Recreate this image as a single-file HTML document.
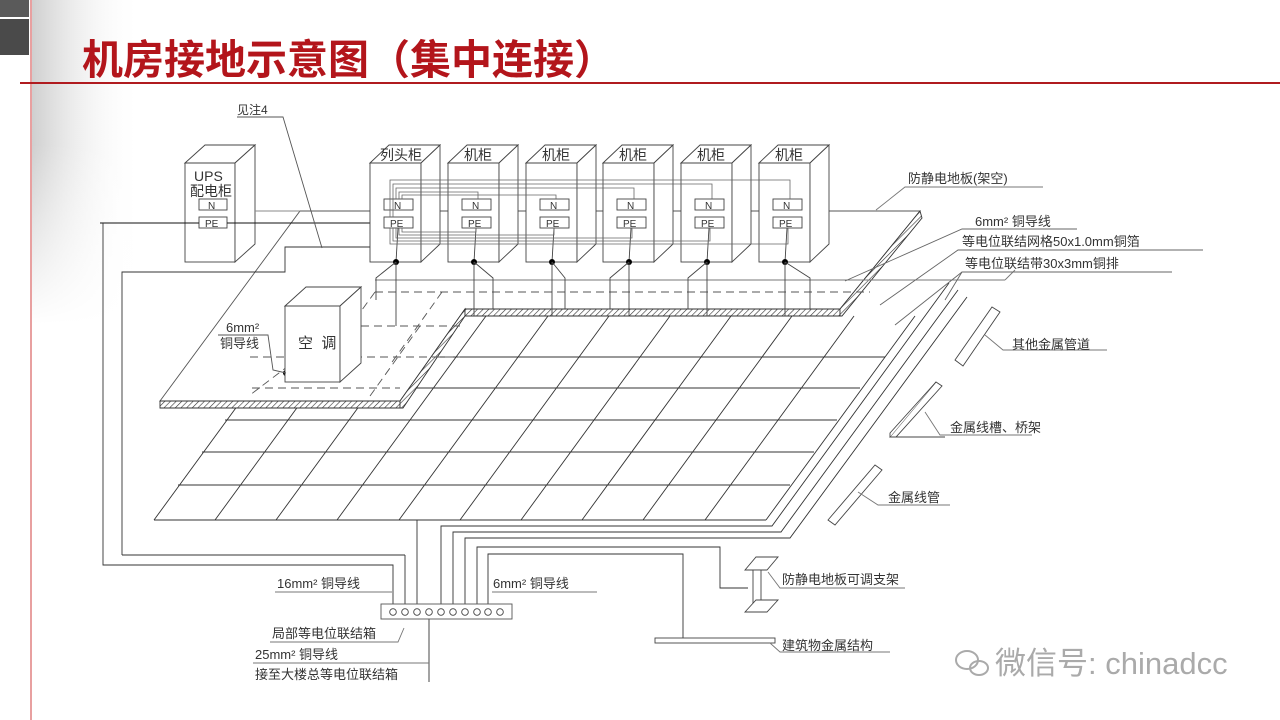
<!DOCTYPE html>
<html><head><meta charset="utf-8"><style>
html,body{margin:0;padding:0;background:#fff;}
body{width:1280px;height:720px;overflow:hidden;position:relative;font-family:"Liberation Sans","Noto Sans CJK SC",sans-serif;}
svg{position:absolute;left:0;top:0;}
.t{font-family:"Liberation Sans","Noto Sans CJK SC",sans-serif;fill:#333;font-size:13px;stroke:none;}
</style></head><body>
<svg width="1280" height="720" viewBox="0 0 1280 720">
<defs>
<linearGradient id="lg" x1="0" x2="1" y1="0" y2="0">
<stop offset="0" stop-color="#cfcfcf"/><stop offset="1" stop-color="#fff" stop-opacity="0"/>
</linearGradient>
<linearGradient id="lgv" x1="0" x2="0" y1="0" y2="1">
<stop offset="0" stop-color="#fff" stop-opacity="0"/><stop offset="0.2" stop-color="#fff" stop-opacity="0"/><stop offset="0.45" stop-color="#fff" stop-opacity="1"/>
</linearGradient>
<pattern id="hatch" width="4" height="4" patternUnits="userSpaceOnUse" patternTransform="rotate(45)">
<rect width="4" height="4" fill="#fff"/><line x1="0" y1="0" x2="0" y2="4" stroke="#333" stroke-width="1.2"/>
</pattern>
</defs>
<rect x="32" y="0" width="110" height="720" fill="url(#lg)"/>
<rect x="32" y="0" width="110" height="720" fill="url(#lgv)"/>
<rect x="0" y="0" width="29" height="17" fill="#5a5a5a"/>
<rect x="0" y="19" width="29" height="36" fill="#4a4a4a"/>
<line x1="31" y1="0" x2="31" y2="720" stroke="#e8a0a0" stroke-width="2"/>
<line x1="20" y1="83" x2="1280" y2="83" stroke="#b01b1f" stroke-width="2"/>
<text x="82" y="74" style="font-family:'Noto Sans CJK SC',sans-serif;font-size:41px;fill:#b3151b;font-weight:bold">机房接地示意图（集中连接）</text>

<g stroke="#333" stroke-width="0.9" fill="none">
<g id="grid">
<line x1="154" y1="520" x2="303" y2="316"/><line x1="215" y1="520" x2="364" y2="316"/><line x1="276" y1="520" x2="425" y2="316"/><line x1="337" y1="520" x2="486" y2="316"/><line x1="399" y1="520" x2="548" y2="316"/><line x1="460" y1="520" x2="609" y2="316"/><line x1="521" y1="520" x2="670" y2="316"/><line x1="582" y1="520" x2="731" y2="316"/><line x1="643" y1="520" x2="792" y2="316"/><line x1="705" y1="520" x2="854" y2="316"/><line x1="766" y1="520" x2="915" y2="316"/>
<line x1="154" y1="520" x2="766" y2="520"/><line x1="178" y1="485" x2="790" y2="485"/><line x1="202" y1="452" x2="814" y2="452"/><line x1="225" y1="420" x2="837" y2="420"/><line x1="248" y1="388" x2="860" y2="388"/><line x1="270" y1="357" x2="885" y2="357"/>
</g>
<polygon points="160,401 300,211 920,211 840,309 465,309 400,401" fill="#fff" stroke="#555"/>
<polygon points="160,401 400,401 400,408 160,408" fill="url(#hatch)" stroke="#333"/>
<polygon points="400,401 465,309 465,316 403,408 400,408" fill="url(#hatch)" stroke="#333"/>
<polygon points="465,309 840,309 840,316 465,316" fill="url(#hatch)" stroke="#333"/>
<polygon points="840,309 920,211 922,218 842,316 840,316" fill="url(#hatch)" stroke="#333"/>
<g stroke="#555" stroke-dasharray="8,5">
<line x1="375" y1="292" x2="870" y2="292"/>
<line x1="361" y1="326" x2="465" y2="326"/>
<line x1="250" y1="357" x2="460" y2="357"/>
<line x1="252" y1="388" x2="400" y2="388"/>
<line x1="375" y1="292" x2="340" y2="340"/>
<line x1="442" y1="292" x2="390" y2="365"/>
<line x1="300" y1="357" x2="250" y2="395"/>
<line x1="420" y1="326" x2="370" y2="396"/>
</g>
<line x1="375" y1="280" x2="1005" y2="280" stroke="#777"/>
<line x1="1005" y1="280" x2="1015" y2="270" stroke="#777"/>

<g stroke="#444">
<rect x="185" y="163" width="50" height="99" fill="#fff"/>
<polygon points="185,163 205,145 255,145 235,163" fill="#fff"/>
<polygon points="235,163 255,145 255,244 235,262" fill="#fff"/>
<rect x="199" y="199" width="28" height="11"/>
<rect x="199" y="217" width="28" height="11"/>
</g>

<polyline points="100,223 199,223" stroke="#111"/>
<polyline points="227,223 384,223" stroke="#111"/>
<polyline points="103,223 103,565 393,565 393,608"/>
<polyline points="122,555 122,272 285,272 285,247 377,247 384,229"/>
<polyline points="405,555 405,608" />
<polyline points="122,555 405,555" />
<line x1="417" y1="520" x2="417" y2="608"/>
<polyline points="237,117 283,117 322,248" stroke="#555"/>

<g id="cabs" stroke="#444">
<g transform="translate(370,0)"><rect x="0" y="163" width="51" height="99" fill="#fff"/><polygon points="0,163 19,145 70,145 51,163" fill="#fff"/><polygon points="51,163 70,145 70,244 51,262" fill="#fff"/><rect x="14" y="199" width="29" height="11" fill="#fff"/><rect x="14" y="217" width="29" height="11" fill="#fff"/><line x1="28" y1="228" x2="26" y2="262"/></g>
<g transform="translate(448,0)"><rect x="0" y="163" width="51" height="99" fill="#fff"/><polygon points="0,163 19,145 70,145 51,163" fill="#fff"/><polygon points="51,163 70,145 70,244 51,262" fill="#fff"/><rect x="14" y="199" width="29" height="11" fill="#fff"/><rect x="14" y="217" width="29" height="11" fill="#fff"/><line x1="28" y1="228" x2="26" y2="262"/></g>
<g transform="translate(526,0)"><rect x="0" y="163" width="51" height="99" fill="#fff"/><polygon points="0,163 19,145 70,145 51,163" fill="#fff"/><polygon points="51,163 70,145 70,244 51,262" fill="#fff"/><rect x="14" y="199" width="29" height="11" fill="#fff"/><rect x="14" y="217" width="29" height="11" fill="#fff"/><line x1="28" y1="228" x2="26" y2="262"/></g>
<g transform="translate(603,0)"><rect x="0" y="163" width="51" height="99" fill="#fff"/><polygon points="0,163 19,145 70,145 51,163" fill="#fff"/><polygon points="51,163 70,145 70,244 51,262" fill="#fff"/><rect x="14" y="199" width="29" height="11" fill="#fff"/><rect x="14" y="217" width="29" height="11" fill="#fff"/><line x1="28" y1="228" x2="26" y2="262"/></g>
<g transform="translate(681,0)"><rect x="0" y="163" width="51" height="99" fill="#fff"/><polygon points="0,163 19,145 70,145 51,163" fill="#fff"/><polygon points="51,163 70,145 70,244 51,262" fill="#fff"/><rect x="14" y="199" width="29" height="11" fill="#fff"/><rect x="14" y="217" width="29" height="11" fill="#fff"/><line x1="28" y1="228" x2="26" y2="262"/></g>
<g transform="translate(759,0)"><rect x="0" y="163" width="51" height="99" fill="#fff"/><polygon points="0,163 19,145 70,145 51,163" fill="#fff"/><polygon points="51,163 70,145 70,244 51,262" fill="#fff"/><rect x="14" y="199" width="29" height="11" fill="#fff"/><rect x="14" y="217" width="29" height="11" fill="#fff"/><line x1="28" y1="228" x2="26" y2="262"/></g>
</g>
<line x1="255" y1="211" x2="300" y2="211" stroke="#888"/>
<g stroke="#666" stroke-width="0.8">
<polyline points="790,199 790,180 390,180 390,217"/>
<polyline points="712,199 712,184 393,184 393,217"/>
<polyline points="634,199 634,188 396,188 396,199"/>
<polyline points="478,199 478,192 399,192 399,199"/>
<polyline points="556,199 556,195 402,195 402,199"/>
<polyline points="476,228 476,232 402,232 402,228"/>
<polyline points="554,228 554,235 399,235 399,228"/>
<polyline points="632,228 632,238 396,238 396,228"/>
<polyline points="710,228 710,241 393,241 393,228"/>
<polyline points="788,228 788,244 390,244 390,228"/>
</g>
<g fill="#000" stroke="none">
<circle cx="396" cy="262" r="3"/><circle cx="474" cy="262" r="3"/><circle cx="552" cy="262" r="3"/><circle cx="629" cy="262" r="3"/><circle cx="707" cy="262" r="3"/><circle cx="785" cy="262" r="3"/>
<circle cx="286" cy="373" r="3"/>
</g>
<g stroke="#444">
<polyline points="396,262 396,326"/><polyline points="396,262 376,278 376,300"/>
<polyline points="474,262 474,316"/><polyline points="474,262 493,278 493,309"/>
<polyline points="552,262 552,316"/><polyline points="552,262 565,278 565,309"/>
<polyline points="629,262 629,316"/><polyline points="629,262 610,278 610,309"/>
<polyline points="707,262 707,316"/><polyline points="707,262 688,278 688,309"/>
<polyline points="785,262 785,316"/><polyline points="785,262 810,278 810,309"/>
</g>
<g stroke="#444" fill="#fff">
<rect x="285" y="306" width="55" height="76"/>
<polygon points="285,306 306,287 361,287 340,306"/>
<polygon points="340,306 361,287 361,363 340,382"/>
</g>
<polyline points="218,335 268,335 273,370 286,373" stroke="#555"/>

<polyline points="441,608 441,526 772,526 949,283"/>
<polyline points="453,608 453,532 781,532 958,290"/>
<polyline points="465,608 465,538 790,538 967,297"/>
<polyline points="477,608 477,547 720,547 720,588 748,588" stroke="#333"/>
<polyline points="488,608 488,554 683,554 683,640"/>
<line x1="429" y1="612" x2="429" y2="682"/>
<rect x="381" y="604" width="131" height="15" fill="#fff" stroke="#555"/>
<g fill="#fff" stroke="#444">
<circle cx="393" cy="612" r="3.3"/><circle cx="405" cy="612" r="3.3"/><circle cx="417" cy="612" r="3.3"/><circle cx="429" cy="612" r="3.3"/><circle cx="441" cy="612" r="3.3"/><circle cx="453" cy="612" r="3.3"/><circle cx="465" cy="612" r="3.3"/><circle cx="477" cy="612" r="3.3"/><circle cx="488" cy="612" r="3.3"/><circle cx="500" cy="612" r="3.3"/>
</g>
<g stroke="#777">
<line x1="275" y1="592" x2="392" y2="592"/>
<line x1="492" y1="592" x2="597" y2="592"/>
<polyline points="270,642 398,642 404,628"/>
<line x1="253" y1="663" x2="429" y2="663"/>
</g>
<g stroke="#444" fill="#fff">
<polygon points="745,570 756,557 778,557 767,570"/>
<rect x="753" y="570" width="8" height="36"/>
<polygon points="745,612 756,600 778,600 767,612"/>
<rect x="655" y="638" width="120" height="5"/>
</g>
<polyline points="768,572 780,588 905,588" stroke="#777"/>
<polyline points="770,643 780,652 890,652" stroke="#777"/>
<g stroke="#444" fill="#fff">
<polygon points="955,360 992,307 1000,312 963,366"/>
<polygon points="890,437 936,382 942,386 896,437"/>
<polyline points="890,437 890,433 936,382"/>
<polyline points="896,437 945,437" fill="none"/>
<polygon points="828,520 875,465 882,470 835,525"/>
</g>
<polyline points="985,335 1003,350 1107,350" stroke="#777"/>
<polyline points="925,412 940,435 1032,435" stroke="#777"/>
<polyline points="858,492 878,505 950,505" stroke="#777"/>
<polyline points="1043,187 905,187 876,210" stroke="#777"/>
<polyline points="1077,229 962,229 845,281" stroke="#666"/>
<polyline points="1203,250 958,250 880,305" stroke="#666"/>
<polyline points="1172,272 962,272 945,300" stroke="#666"/>
<line x1="962" y1="272" x2="895" y2="325" stroke="#666"/>
</g>

<text class="t" x="194" y="181" style="font-size:14px">UPS</text>
<text class="t" x="190" y="196" style="font-size:14px">配电柜</text>
<text class="t" x="208" y="209" style="font-size:10px">N</text>
<text class="t" x="205" y="227" style="font-size:10px">PE</text>
<text class="t" x="237" y="114" style="font-size:12px">见注4</text>
<text class="t" x="380" y="160" style="font-size:14px">列头柜</text>
<text class="t" x="464" y="160" style="font-size:14px">机柜</text>
<text class="t" x="542" y="160" style="font-size:14px">机柜</text>
<text class="t" x="619" y="160" style="font-size:14px">机柜</text>
<text class="t" x="697" y="160" style="font-size:14px">机柜</text>
<text class="t" x="775" y="160" style="font-size:14px">机柜</text>
<g class="t" style="font-size:10px">
<text x="394" y="209">N</text><text x="390" y="227">PE</text>
<text x="472" y="209">N</text><text x="468" y="227">PE</text>
<text x="550" y="209">N</text><text x="546" y="227">PE</text>
<text x="627" y="209">N</text><text x="623" y="227">PE</text>
<text x="705" y="209">N</text><text x="701" y="227">PE</text>
<text x="783" y="209">N</text><text x="779" y="227">PE</text>
</g>
<text class="t" x="298" y="348" style="font-size:15px">空&#160;&#160;调</text>
<text class="t" x="226" y="332" style="font-size:13px">6mm²</text>
<text class="t" x="220" y="348" style="font-size:13px">铜导线</text>
<text class="t" x="908" y="183" style="font-size:13px">防静电地板(架空)</text>
<text class="t" x="975" y="226" style="font-size:13px">6mm² 铜导线</text>
<text class="t" x="962" y="246" style="font-size:13px">等电位联结网格50x1.0mm铜箔</text>
<text class="t" x="965" y="268" style="font-size:13px">等电位联结带30x3mm铜排</text>
<text class="t" x="1012" y="349" style="font-size:13px">其他金属管道</text>
<text class="t" x="950" y="432" style="font-size:13px">金属线槽、桥架</text>
<text class="t" x="888" y="502" style="font-size:13px">金属线管</text>
<text class="t" x="782" y="584" style="font-size:13px">防静电地板可调支架</text>
<text class="t" x="782" y="650" style="font-size:13px">建筑物金属结构</text>
<text class="t" x="277" y="588" style="font-size:13px">16mm² 铜导线</text>
<text class="t" x="493" y="588" style="font-size:13px">6mm² 铜导线</text>
<text class="t" x="272" y="638" style="font-size:13px">局部等电位联结箱</text>
<text class="t" x="255" y="659" style="font-size:13px">25mm² 铜导线</text>
<text class="t" x="255" y="679" style="font-size:13px">接至大楼总等电位联结箱</text>

<g fill="none" stroke="#aaa" stroke-width="2">
<ellipse cx="967" cy="660" rx="11" ry="9"/>
<ellipse cx="979" cy="668" rx="9" ry="7"/>
</g>
<text x="995" y="674" style="font-family:'Liberation Sans','Noto Sans CJK SC',sans-serif;font-size:31px;fill:#aaa">微信号: chinadcc</text>
</svg>
</body></html>
